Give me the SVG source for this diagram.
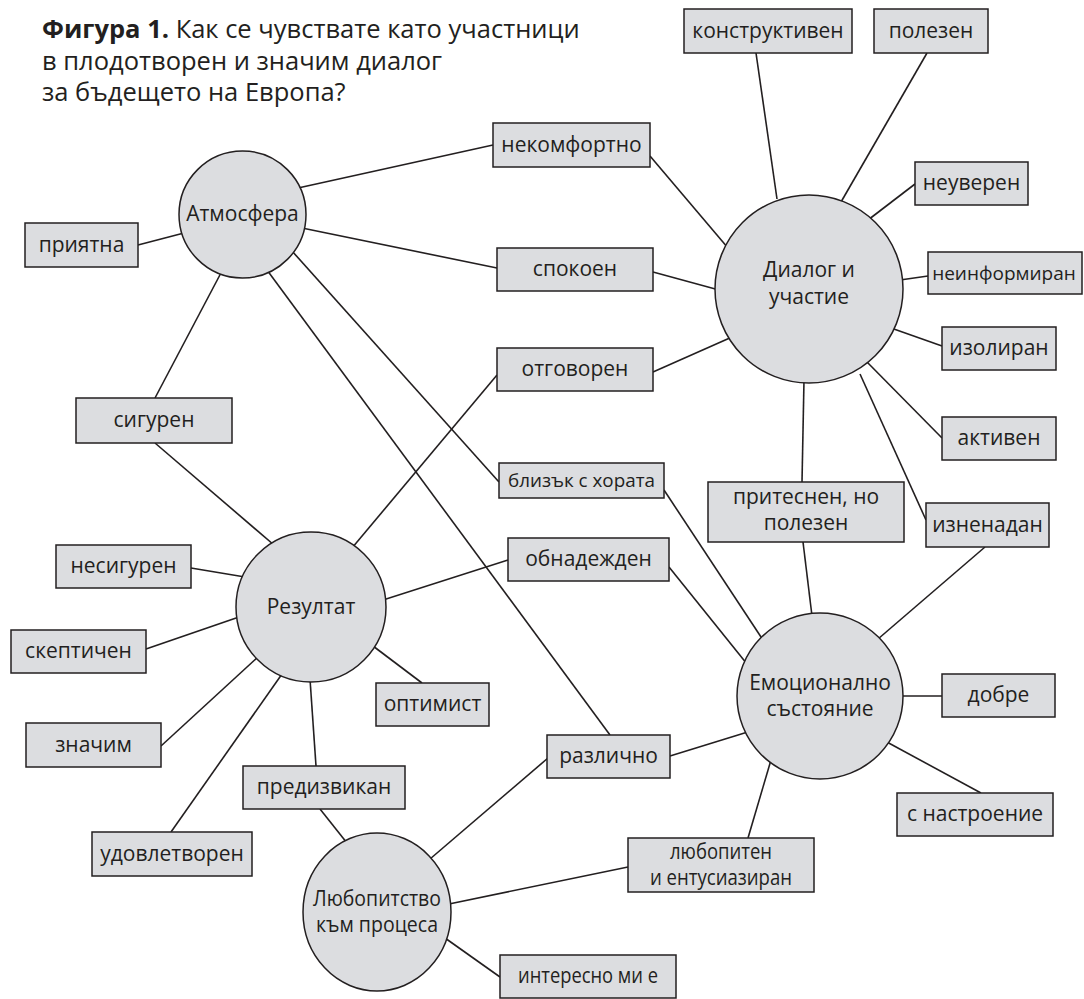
<svg xmlns="http://www.w3.org/2000/svg" width="1084" height="999" viewBox="0 0 1084 999">
<style>
  .bg{fill:#ffffff}
  .shape{fill:#dcdde0;stroke:#231f20;stroke-width:1.5}
  .conn line{stroke:#231f20;stroke-width:1.6;fill:none}
  text{font-family:"Open Sans","Noto Sans","DejaVu Sans",sans-serif;fill:#231f20;font-size:21px}
  .lbl{text-anchor:middle}
  .title{font-size:25.5px}
  .b{font-weight:bold}
</style>
<rect class="bg" x="0" y="0" width="1084" height="999"/>
<g id="title">
  <text class="title" x="42" y="38"><tspan class="b">Фигура 1.</tspan> Как се чувствате като участници</text>
  <text class="title" x="42" y="69.5">в плодотворен и значим диалог</text>
  <text class="title" x="42" y="101">за бъдещето на Европа?</text>
</g>
<g id="connectors" class="conn">
  <line x1="298" y1="188" x2="493" y2="145"/>
  <line x1="302" y1="228" x2="497" y2="268"/>
  <line x1="184" y1="233" x2="138" y2="245"/>
  <line x1="222" y1="271" x2="155" y2="398"/>
  <line x1="292" y1="251" x2="499" y2="482"/>
  <line x1="267" y1="270" x2="610" y2="735"/>
  <line x1="777" y1="199" x2="756" y2="53"/>
  <line x1="841" y1="202" x2="927" y2="53"/>
  <line x1="868" y1="220" x2="915" y2="184"/>
  <line x1="650" y1="156" x2="728" y2="248"/>
  <line x1="653" y1="272" x2="719" y2="290"/>
  <line x1="653" y1="372" x2="732" y2="337"/>
  <line x1="900" y1="280" x2="928" y2="276"/>
  <line x1="891" y1="328" x2="942" y2="346"/>
  <line x1="866" y1="361" x2="942" y2="438"/>
  <line x1="860" y1="374" x2="926" y2="520"/>
  <line x1="804" y1="380" x2="802" y2="482"/>
  <line x1="155" y1="443" x2="274" y2="545"/>
  <line x1="352" y1="548" x2="497" y2="375"/>
  <line x1="191" y1="568" x2="245" y2="577"/>
  <line x1="146" y1="649" x2="239" y2="617"/>
  <line x1="161" y1="746" x2="259" y2="656"/>
  <line x1="282" y1="674" x2="171" y2="832"/>
  <line x1="310" y1="679" x2="316" y2="766"/>
  <line x1="373" y1="646" x2="422" y2="683"/>
  <line x1="383" y1="600" x2="508" y2="560"/>
  <line x1="803" y1="542" x2="812" y2="616"/>
  <line x1="985" y1="547" x2="878" y2="639"/>
  <line x1="664" y1="490" x2="763" y2="640"/>
  <line x1="669" y1="567" x2="747" y2="664"/>
  <line x1="900" y1="696" x2="942" y2="696"/>
  <line x1="885" y1="741" x2="981" y2="793"/>
  <line x1="670" y1="756" x2="751" y2="731"/>
  <line x1="771" y1="760" x2="748" y2="838"/>
  <line x1="320" y1="809" x2="347" y2="843"/>
  <line x1="548" y1="758" x2="430" y2="859"/>
  <line x1="628" y1="867" x2="449" y2="904"/>
  <line x1="500" y1="977" x2="445" y2="938"/>
</g>
<g id="n-atmosfera"><circle class="shape" cx="242.5" cy="214.5" r="63.5"/><text class="lbl" x="242.5" y="221">Атмосфера</text></g>
<g id="n-dialog"><circle class="shape" cx="809" cy="289" r="94"/><text class="lbl" x="809" y="277">Диалог и</text><text class="lbl" x="809" y="304">участие</text></g>
<g id="n-rezultat"><circle class="shape" cx="311" cy="607" r="75"/><text class="lbl" x="311" y="614">Резултат</text></g>
<g id="n-emocionalno"><circle class="shape" cx="820" cy="696" r="83"/><text class="lbl" x="820" y="690">Емоционално</text><text class="lbl" x="820" y="716">състояние</text></g>
<g id="n-lyubopitstvo"><ellipse class="shape" cx="377" cy="912" rx="74" ry="79"/><text class="lbl" x="377" y="906" textLength="128" lengthAdjust="spacingAndGlyphs">Любопитство</text><text class="lbl" x="377" y="932" textLength="122" lengthAdjust="spacingAndGlyphs">към процеса</text></g>
<g id="b-konstruktiven"><rect class="shape" x="684" y="9" width="168" height="44"/><text class="lbl" x="768" y="38">конструктивен</text></g>
<g id="b-polezen"><rect class="shape" x="874" y="9" width="114" height="44"/><text class="lbl" x="931" y="38">полезен</text></g>
<g id="b-neuveren"><rect class="shape" x="915" y="162" width="113" height="43"/><text class="lbl" x="971.5" y="190">неуверен</text></g>
<g id="b-neinformiran"><rect class="shape" x="928" y="252" width="154" height="42"/><text class="lbl" x="1004" y="280" style="font-size:19px">неинформиран</text></g>
<g id="b-izoliran"><rect class="shape" x="942" y="327" width="114" height="43"/><text class="lbl" x="999" y="355">изолиран</text></g>
<g id="b-aktiven"><rect class="shape" x="942" y="417" width="114" height="43"/><text class="lbl" x="999" y="445">активен</text></g>
<g id="b-iznenadan"><rect class="shape" x="926" y="503" width="123" height="44"/><text class="lbl" x="987.5" y="532">изненадан</text></g>
<g id="b-pritesnen"><rect class="shape" x="708" y="482" width="196" height="60"/><text class="lbl" x="806" y="504">притеснен, но</text><text class="lbl" x="806" y="530">полезен</text></g>
<g id="b-priyatna"><rect class="shape" x="25" y="223" width="113" height="44"/><text class="lbl" x="81.5" y="252">приятна</text></g>
<g id="b-siguren"><rect class="shape" x="76" y="398" width="156" height="45"/><text class="lbl" x="154" y="427">сигурен</text></g>
<g id="b-nekomfortno"><rect class="shape" x="493" y="123" width="157" height="44"/><text class="lbl" x="571.5" y="152">некомфортно</text></g>
<g id="b-spokoen"><rect class="shape" x="497" y="248" width="156" height="43"/><text class="lbl" x="575" y="276">спокоен</text></g>
<g id="b-otgovoren"><rect class="shape" x="497" y="348" width="156" height="43"/><text class="lbl" x="575" y="376">отговорен</text></g>
<g id="b-blizak"><rect class="shape" x="499" y="463" width="165" height="35"/><text class="lbl" x="581.5" y="487" style="font-size:19px" textLength="147" lengthAdjust="spacingAndGlyphs">близък с хората</text></g>
<g id="b-obnadezhden"><rect class="shape" x="508" y="538" width="161" height="43"/><text class="lbl" x="588.5" y="566">обнадежден</text></g>
<g id="b-nesiguren"><rect class="shape" x="56" y="545" width="135" height="43"/><text class="lbl" x="123.5" y="573">несигурен</text></g>
<g id="b-skeptichen"><rect class="shape" x="11" y="630" width="135" height="43"/><text class="lbl" x="78.5" y="658">скептичен</text></g>
<g id="b-optimist"><rect class="shape" x="376" y="683" width="113" height="43"/><text class="lbl" x="432.5" y="711">оптимист</text></g>
<g id="b-znachim"><rect class="shape" x="26" y="723" width="135" height="44"/><text class="lbl" x="93.5" y="752">значим</text></g>
<g id="b-predizvikan"><rect class="shape" x="243" y="766" width="162" height="43"/><text class="lbl" x="324" y="794">предизвикан</text></g>
<g id="b-udovletvoren"><rect class="shape" x="92" y="832" width="160" height="44"/><text class="lbl" x="172" y="861">удовлетворен</text></g>
<g id="b-razlichno"><rect class="shape" x="547" y="735" width="123" height="43"/><text class="lbl" x="608.5" y="763">различно</text></g>
<g id="b-dobre"><rect class="shape" x="942" y="674" width="113" height="43"/><text class="lbl" x="998.5" y="702">добре</text></g>
<g id="b-nastroenie"><rect class="shape" x="897" y="793" width="156" height="43"/><text class="lbl" x="975" y="821">с настроение</text></g>
<g id="b-lyubopiten"><rect class="shape" x="628" y="838" width="186" height="54"/><text class="lbl" x="721" y="859" textLength="102" lengthAdjust="spacingAndGlyphs">любопитен</text><text class="lbl" x="721" y="885" textLength="142" lengthAdjust="spacingAndGlyphs">и ентусиазиран</text></g>
<g id="b-interesno"><rect class="shape" x="500" y="955" width="176" height="43"/><text class="lbl" x="588" y="983" textLength="140" lengthAdjust="spacingAndGlyphs">интересно ми е</text></g>
</svg>
